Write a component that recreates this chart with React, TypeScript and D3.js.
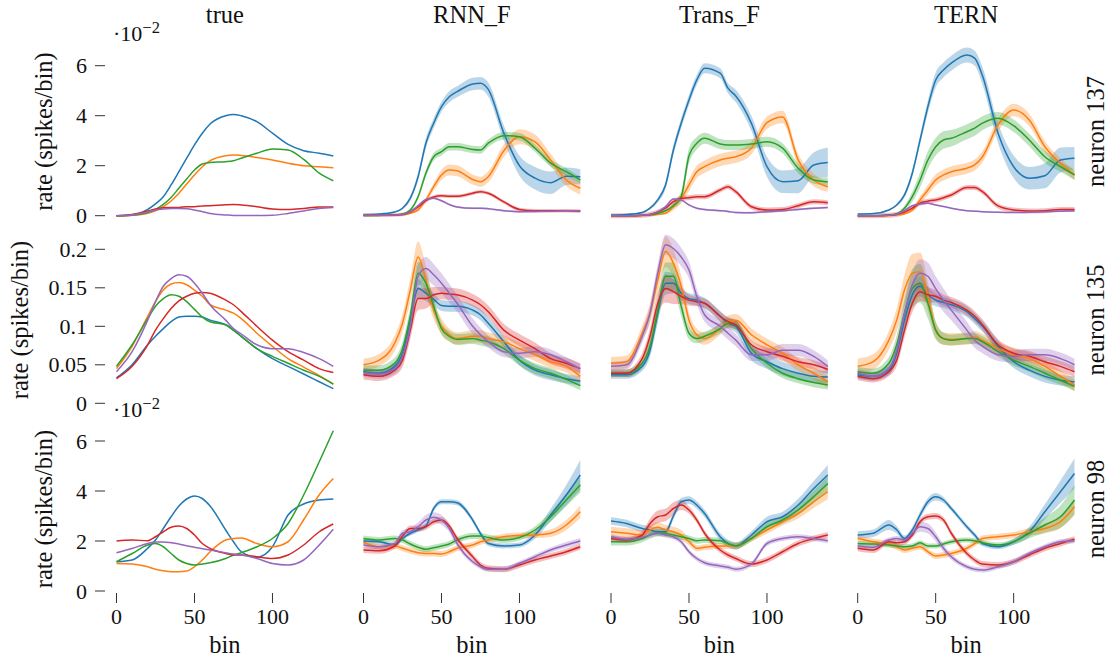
import React, { useRef, useEffect } from "react";
import * as d3 from "d3";

// sample bins shared by every curve
const bins = [0, 10, 20, 25, 30, 35, 40, 45, 50, 55, 60, 70, 75, 80, 90, 100, 110, 120, 130, 139];
const modelNames = ["true", "RNN_F", "Trans_F", "TERN"];
const neuronNames = ["neuron 137", "neuron 135", "neuron 98"];
const seriesColors = ["#1f77b4", "#ff7f0e", "#2ca02c", "#d62728", "#9467bd"];
const binTicks = [0, 50, 100];
const smallRateTicks = [0, 2, 4, 6]; // x 10^-2
const largeRateTicks = [0, 0.05, 0.1, 0.15, 0.2];

// neuron 137, rates in units of 10^-2
const n137True = [
  [0, 0.03, 0.25, 0.47, 0.76, 1.23, 1.76, 2.3, 2.83, 3.3, 3.67, 4.0, 4.05, 4.0, 3.76, 3.3, 2.85, 2.6, 2.5, 2.39],
  [0, 0.02, 0.1, 0.2, 0.36, 0.59, 0.9, 1.27, 1.63, 1.96, 2.2, 2.4, 2.43, 2.41, 2.33, 2.23, 2.1, 2.0, 1.96, 1.92],
  [0, 0.02, 0.13, 0.25, 0.45, 0.73, 1.1, 1.47, 1.83, 2.07, 2.13, 2.16, 2.2, 2.3, 2.5, 2.67, 2.63, 2.25, 1.7, 1.4],
  [0, 0.05, 0.19, 0.27, 0.32, 0.33, 0.33, 0.36, 0.36, 0.39, 0.4, 0.44, 0.45, 0.43, 0.36, 0.27, 0.25, 0.29, 0.35, 0.35],
  [0, 0.03, 0.15, 0.23, 0.27, 0.29, 0.29, 0.28, 0.23, 0.16, 0.09, 0.03, 0.01, 0.01, 0.01, 0.02, 0.09, 0.19, 0.29, 0.33],
];
const n137Rnn = [
  [0.05, 0.07, 0.15, 0.3, 0.7, 1.56, 2.9, 3.7, 4.36, 4.76, 4.96, 5.27, 5.3, 5.05, 3.3, 2.0, 1.5, 1.32, 1.58, 1.56],
  [0.02, 0.02, 0.03, 0.04, 0.1, 0.23, 0.63, 1.16, 1.63, 1.83, 1.8, 1.45, 1.36, 1.56, 2.6, 3.16, 2.95, 2.23, 1.43, 1.1],
  [0, 0.01, 0.03, 0.07, 0.23, 0.76, 1.7, 2.36, 2.56, 2.76, 2.76, 2.65, 2.63, 2.9, 3.2, 3.16, 2.7, 2.1, 1.76, 1.43],
  [0.02, 0.02, 0.03, 0.05, 0.15, 0.35, 0.6, 0.75, 0.8, 0.78, 0.78, 0.9, 0.96, 0.9, 0.55, 0.25, 0.2, 0.2, 0.2, 0.18],
  [0.02, 0.02, 0.03, 0.05, 0.15, 0.4, 0.65, 0.7, 0.6, 0.45, 0.35, 0.3, 0.3, 0.28, 0.2, 0.16, 0.17, 0.18, 0.2, 0.2],
];
const n137RnnSd = [
  [0, 0, 0.02, 0.05, 0.1, 0.15, 0.2, 0.2, 0.2, 0.22, 0.22, 0.25, 0.25, 0.28, 0.3, 0.4, 0.45, 0.45, 0.35, 0.3],
  [0, 0, 0, 0.01, 0.03, 0.06, 0.1, 0.15, 0.2, 0.22, 0.22, 0.2, 0.2, 0.22, 0.25, 0.3, 0.3, 0.25, 0.25, 0.25],
  [0, 0, 0, 0.02, 0.05, 0.1, 0.15, 0.15, 0.15, 0.15, 0.15, 0.15, 0.15, 0.15, 0.15, 0.15, 0.15, 0.15, 0.15, 0.12],
  0.07,
  0.04,
];
const n137Trans = [
  [0.03, 0.05, 0.13, 0.3, 0.63, 1.23, 2.63, 3.7, 4.63, 5.43, 5.9, 5.7, 5.1, 4.79, 3.7, 1.96, 1.36, 1.4, 2.03, 2.13],
  [0, 0, 0.01, 0.02, 0.05, 0.1, 0.36, 0.7, 1.23, 1.76, 1.96, 2.23, 2.3, 2.36, 2.7, 3.72, 3.95, 2.23, 1.43, 1.16],
  [0, 0, 0.02, 0.04, 0.1, 0.2, 0.4, 0.76, 2.4, 2.9, 3.1, 2.87, 2.83, 2.83, 2.87, 2.96, 2.7, 1.9, 1.43, 1.36],
  [0, 0, 0.02, 0.05, 0.15, 0.3, 0.56, 0.7, 0.72, 0.76, 0.76, 1.03, 1.16, 0.96, 0.36, 0.23, 0.25, 0.4, 0.56, 0.52],
  [0, 0, 0.02, 0.05, 0.15, 0.36, 0.67, 0.63, 0.43, 0.3, 0.25, 0.2, 0.17, 0.13, 0.12, 0.16, 0.2, 0.25, 0.3, 0.33],
];
const n137TransSd = [
  [0, 0, 0.02, 0.05, 0.1, 0.15, 0.2, 0.2, 0.2, 0.2, 0.2, 0.2, 0.2, 0.25, 0.3, 0.4, 0.45, 0.5, 0.5, 0.6],
  [0, 0, 0, 0, 0.02, 0.05, 0.15, 0.2, 0.25, 0.25, 0.25, 0.25, 0.25, 0.25, 0.25, 0.25, 0.25, 0.25, 0.25, 0.2],
  [0, 0, 0, 0, 0.02, 0.05, 0.1, 0.2, 0.3, 0.25, 0.22, 0.2, 0.2, 0.2, 0.2, 0.2, 0.2, 0.2, 0.15, 0.15],
  0.1,
  0.04,
];
const n137Tern = [
  [0.07, 0.09, 0.23, 0.43, 0.83, 1.7, 3.03, 4.36, 5.43, 5.83, 6.1, 6.43, 6.3, 5.6, 3.3, 1.96, 1.5, 1.6, 2.23, 2.3],
  [0, 0, 0.01, 0.03, 0.08, 0.23, 0.63, 1.03, 1.43, 1.63, 1.76, 1.9, 2.03, 2.36, 3.63, 4.23, 3.83, 2.76, 2.1, 1.63],
  [0, 0.01, 0.03, 0.08, 0.3, 0.76, 1.43, 2.23, 2.76, 3.03, 3.1, 3.36, 3.5, 3.7, 3.9, 3.6, 3.03, 2.36, 1.96, 1.63],
  [0, 0, 0.02, 0.05, 0.15, 0.3, 0.5, 0.58, 0.63, 0.72, 0.83, 1.13, 1.13, 0.96, 0.39, 0.23, 0.19, 0.2, 0.25, 0.25],
  [0, 0, 0.02, 0.06, 0.2, 0.4, 0.47, 0.5, 0.43, 0.37, 0.3, 0.2, 0.18, 0.16, 0.14, 0.13, 0.14, 0.16, 0.18, 0.2],
];
const n137TernSd = [
  [0, 0, 0.02, 0.05, 0.1, 0.15, 0.2, 0.25, 0.3, 0.3, 0.3, 0.3, 0.3, 0.35, 0.4, 0.45, 0.45, 0.5, 0.5, 0.45],
  [0, 0, 0, 0.01, 0.03, 0.08, 0.15, 0.2, 0.22, 0.22, 0.22, 0.22, 0.22, 0.22, 0.25, 0.25, 0.25, 0.22, 0.2, 0.2],
  [0, 0, 0, 0.02, 0.1, 0.2, 0.3, 0.35, 0.35, 0.35, 0.33, 0.3, 0.3, 0.28, 0.25, 0.25, 0.25, 0.25, 0.2, 0.2],
  0.1,
  0.03,
];

// neuron 135, rates in spikes/bin
const n135True = [
  [0.033, 0.05, 0.076, 0.087, 0.097, 0.106, 0.112, 0.113, 0.113, 0.112, 0.108, 0.102, 0.095, 0.087, 0.071, 0.058, 0.048, 0.038, 0.028, 0.019],
  [0.045, 0.074, 0.113, 0.132, 0.147, 0.155, 0.157, 0.154, 0.147, 0.139, 0.128, 0.121, 0.117, 0.11, 0.091, 0.074, 0.058, 0.047, 0.036, 0.025],
  [0.048, 0.076, 0.11, 0.126, 0.136, 0.141, 0.139, 0.132, 0.122, 0.112, 0.106, 0.102, 0.095, 0.087, 0.071, 0.061, 0.052, 0.043, 0.035, 0.025],
  [0.032, 0.048, 0.076, 0.095, 0.11, 0.123, 0.133, 0.139, 0.143, 0.144, 0.143, 0.134, 0.128, 0.119, 0.1, 0.082, 0.067, 0.056, 0.045, 0.04],
  [0.041, 0.067, 0.108, 0.132, 0.152, 0.162, 0.167, 0.165, 0.156, 0.143, 0.128, 0.108, 0.097, 0.09, 0.076, 0.071, 0.071, 0.066, 0.058, 0.048],
];
const n135Rnn = [
  [0.041, 0.039, 0.048, 0.065, 0.108, 0.149, 0.143, 0.135, 0.127, 0.126, 0.126, 0.121, 0.115, 0.104, 0.08, 0.056, 0.043, 0.037, 0.032, 0.029],
  [0.05, 0.056, 0.078, 0.104, 0.147, 0.19, 0.16, 0.121, 0.1, 0.089, 0.084, 0.087, 0.087, 0.084, 0.08, 0.071, 0.063, 0.054, 0.048, 0.035],
  [0.043, 0.043, 0.052, 0.071, 0.113, 0.169, 0.156, 0.126, 0.097, 0.087, 0.083, 0.084, 0.082, 0.08, 0.071, 0.056, 0.045, 0.039, 0.031, 0.023],
  [0.037, 0.035, 0.043, 0.056, 0.095, 0.136, 0.136, 0.141, 0.143, 0.142, 0.141, 0.134, 0.128, 0.119, 0.095, 0.082, 0.071, 0.058, 0.052, 0.045],
  [0.04, 0.038, 0.045, 0.061, 0.1, 0.165, 0.175, 0.167, 0.156, 0.143, 0.13, 0.1, 0.089, 0.08, 0.067, 0.065, 0.067, 0.063, 0.054, 0.045],
];
const n135RnnSd = [
  [0.005, 0.005, 0.006, 0.008, 0.01, 0.012, 0.01, 0.008, 0.007, 0.007, 0.007, 0.007, 0.007, 0.007, 0.007, 0.007, 0.007, 0.007, 0.006, 0.006],
  [0.008, 0.008, 0.01, 0.012, 0.015, 0.02, 0.018, 0.012, 0.01, 0.008, 0.008, 0.008, 0.008, 0.008, 0.008, 0.008, 0.008, 0.008, 0.008, 0.008],
  [0.006, 0.006, 0.007, 0.009, 0.012, 0.015, 0.013, 0.01, 0.008, 0.007, 0.007, 0.007, 0.007, 0.007, 0.007, 0.007, 0.007, 0.007, 0.006, 0.006],
  [0.006, 0.006, 0.007, 0.009, 0.012, 0.015, 0.013, 0.01, 0.008, 0.008, 0.008, 0.008, 0.008, 0.008, 0.008, 0.008, 0.008, 0.007, 0.007, 0.007],
  [0.006, 0.006, 0.007, 0.009, 0.012, 0.015, 0.015, 0.014, 0.013, 0.012, 0.011, 0.01, 0.009, 0.008, 0.007, 0.007, 0.007, 0.007, 0.006, 0.006],
];
const n135Trans = [
  [0.037, 0.037, 0.048, 0.069, 0.117, 0.156, 0.156, 0.143, 0.136, 0.134, 0.13, 0.113, 0.104, 0.1, 0.065, 0.054, 0.045, 0.039, 0.035, 0.034],
  [0.052, 0.054, 0.091, 0.117, 0.16, 0.197, 0.182, 0.152, 0.108, 0.089, 0.084, 0.097, 0.106, 0.108, 0.089, 0.076, 0.065, 0.05, 0.039, 0.028],
  [0.039, 0.039, 0.052, 0.074, 0.121, 0.165, 0.165, 0.126, 0.091, 0.084, 0.087, 0.097, 0.104, 0.102, 0.071, 0.052, 0.039, 0.032, 0.027, 0.024],
  [0.039, 0.039, 0.058, 0.087, 0.13, 0.149, 0.145, 0.139, 0.134, 0.132, 0.13, 0.113, 0.106, 0.102, 0.076, 0.067, 0.061, 0.054, 0.05, 0.044],
  [0.048, 0.05, 0.087, 0.117, 0.169, 0.206, 0.201, 0.19, 0.173, 0.139, 0.115, 0.1, 0.091, 0.082, 0.063, 0.063, 0.069, 0.069, 0.061, 0.048],
];
const n135TransSd = [
  [0.005, 0.005, 0.006, 0.009, 0.012, 0.015, 0.013, 0.009, 0.007, 0.007, 0.007, 0.007, 0.007, 0.008, 0.009, 0.009, 0.009, 0.009, 0.008, 0.008],
  [0.008, 0.008, 0.01, 0.013, 0.016, 0.02, 0.018, 0.014, 0.01, 0.008, 0.008, 0.008, 0.008, 0.008, 0.008, 0.008, 0.008, 0.008, 0.008, 0.008],
  [0.005, 0.005, 0.007, 0.01, 0.014, 0.018, 0.018, 0.013, 0.008, 0.006, 0.006, 0.006, 0.006, 0.006, 0.006, 0.006, 0.006, 0.006, 0.006, 0.006],
  [0.005, 0.005, 0.007, 0.01, 0.014, 0.018, 0.016, 0.01, 0.007, 0.006, 0.006, 0.006, 0.006, 0.006, 0.006, 0.006, 0.006, 0.006, 0.006, 0.006],
  [0.006, 0.006, 0.008, 0.01, 0.012, 0.013, 0.013, 0.012, 0.011, 0.01, 0.009, 0.008, 0.008, 0.008, 0.008, 0.008, 0.008, 0.008, 0.008, 0.008],
];
const n135Tern = [
  [0.037, 0.035, 0.043, 0.065, 0.108, 0.141, 0.152, 0.141, 0.134, 0.131, 0.128, 0.119, 0.11, 0.1, 0.074, 0.054, 0.043, 0.035, 0.03, 0.028],
  [0.048, 0.054, 0.082, 0.108, 0.147, 0.169, 0.171, 0.139, 0.095, 0.084, 0.083, 0.084, 0.086, 0.082, 0.071, 0.063, 0.058, 0.048, 0.035, 0.024],
  [0.041, 0.039, 0.052, 0.076, 0.117, 0.149, 0.156, 0.13, 0.095, 0.084, 0.082, 0.084, 0.084, 0.08, 0.067, 0.056, 0.048, 0.039, 0.03, 0.022],
  [0.035, 0.032, 0.041, 0.056, 0.095, 0.13, 0.145, 0.141, 0.139, 0.134, 0.131, 0.121, 0.113, 0.102, 0.076, 0.065, 0.061, 0.054, 0.048, 0.041],
  [0.039, 0.035, 0.045, 0.069, 0.117, 0.154, 0.169, 0.165, 0.149, 0.134, 0.121, 0.095, 0.082, 0.074, 0.063, 0.061, 0.063, 0.063, 0.058, 0.05],
];
const n135TernSd = [
  [0.005, 0.005, 0.006, 0.009, 0.012, 0.015, 0.013, 0.01, 0.008, 0.007, 0.007, 0.007, 0.007, 0.007, 0.008, 0.008, 0.008, 0.008, 0.007, 0.007],
  [0.01, 0.01, 0.012, 0.015, 0.02, 0.025, 0.025, 0.018, 0.01, 0.008, 0.008, 0.008, 0.008, 0.008, 0.008, 0.008, 0.008, 0.008, 0.008, 0.008],
  [0.006, 0.006, 0.008, 0.012, 0.018, 0.025, 0.025, 0.02, 0.012, 0.008, 0.007, 0.007, 0.007, 0.007, 0.007, 0.007, 0.007, 0.007, 0.006, 0.006],
  [0.005, 0.005, 0.006, 0.008, 0.01, 0.012, 0.012, 0.01, 0.008, 0.007, 0.007, 0.007, 0.007, 0.007, 0.007, 0.007, 0.007, 0.007, 0.007, 0.007],
  [0.006, 0.006, 0.008, 0.01, 0.013, 0.016, 0.018, 0.018, 0.016, 0.015, 0.013, 0.011, 0.01, 0.009, 0.008, 0.008, 0.008, 0.008, 0.008, 0.008],
];

// neuron 98, rates in units of 10^-2
const n98True = [
  [1.17, 1.24, 1.71, 2.04, 2.5, 2.97, 3.4, 3.68, 3.8, 3.7, 3.4, 2.44, 1.97, 1.57, 1.35, 1.77, 3.04, 3.48, 3.64, 3.68],
  [1.1, 1.08, 0.97, 0.87, 0.81, 0.77, 0.77, 0.8, 0.97, 1.24, 1.57, 2.04, 2.1, 2.12, 1.9, 1.77, 1.97, 2.85, 3.85, 4.5],
  [1.17, 1.5, 1.84, 1.9, 1.77, 1.5, 1.24, 1.1, 1.04, 1.08, 1.13, 1.3, 1.44, 1.53, 1.77, 2.1, 2.7, 3.84, 5.17, 6.41],
  [2.0, 2.04, 2.01, 2.17, 2.37, 2.55, 2.6, 2.5, 2.24, 1.9, 1.7, 1.5, 1.44, 1.44, 1.37, 1.3, 1.44, 1.84, 2.37, 2.68],
  [1.53, 1.7, 1.9, 1.96, 1.96, 1.93, 1.88, 1.81, 1.75, 1.69, 1.64, 1.53, 1.48, 1.44, 1.3, 1.1, 1.04, 1.24, 1.84, 2.47],
];
const n98Rnn = [
  [2.0, 1.97, 1.84, 2.1, 2.31, 2.44, 2.6, 3.3, 3.57, 3.57, 3.53, 2.84, 2.3, 1.9, 1.8, 1.84, 2.24, 3.04, 3.84, 4.64],
  [1.95, 1.77, 1.8, 1.71, 1.61, 1.53, 1.5, 1.5, 1.48, 1.57, 1.71, 1.84, 1.97, 2.04, 2.17, 2.22, 2.24, 2.31, 2.64, 3.17],
  [2.1, 2.04, 2.1, 2.04, 1.88, 1.75, 1.67, 1.73, 1.8, 1.88, 2.04, 2.2, 2.2, 2.14, 2.04, 2.14, 2.44, 2.97, 3.64, 4.24],
  [1.64, 1.61, 1.8, 2.2, 2.5, 2.5, 2.57, 2.77, 2.84, 2.6, 2.1, 1.37, 1.04, 0.91, 0.87, 1.04, 1.24, 1.4, 1.57, 1.77],
  [1.84, 1.77, 1.9, 2.31, 2.37, 2.57, 2.84, 2.95, 2.84, 2.5, 1.9, 1.17, 0.97, 0.87, 0.87, 1.1, 1.37, 1.64, 1.84, 2.0],
];
const n98RnnSd = [
  [0.12, 0.08, 0.08, 0.08, 0.08, 0.08, 0.1, 0.1, 0.1, 0.1, 0.1, 0.1, 0.1, 0.1, 0.1, 0.1, 0.15, 0.25, 0.4, 0.6],
  [0.12, 0.12, 0.12, 0.12, 0.12, 0.12, 0.12, 0.12, 0.12, 0.12, 0.12, 0.12, 0.12, 0.12, 0.12, 0.12, 0.12, 0.15, 0.2, 0.25],
  [0.12, 0.12, 0.12, 0.12, 0.12, 0.12, 0.12, 0.12, 0.12, 0.12, 0.12, 0.12, 0.12, 0.12, 0.12, 0.12, 0.15, 0.2, 0.25, 0.3],
  0.12,
  [0.1, 0.1, 0.1, 0.12, 0.15, 0.18, 0.2, 0.2, 0.2, 0.15, 0.12, 0.1, 0.1, 0.1, 0.1, 0.1, 0.1, 0.1, 0.12, 0.12],
];
const n98Trans = [
  [2.8, 2.7, 2.5, 2.44, 2.37, 2.37, 3.0, 3.57, 3.64, 3.44, 3.1, 2.17, 1.9, 1.8, 2.24, 2.77, 2.97, 3.44, 4.1, 4.64],
  [2.37, 2.31, 2.24, 2.44, 2.55, 2.44, 2.37, 2.24, 1.97, 1.71, 1.75, 1.8, 1.8, 1.8, 2.1, 2.44, 2.77, 3.1, 3.57, 3.97],
  [1.97, 1.97, 2.1, 2.24, 2.33, 2.31, 2.24, 2.17, 2.1, 2.01, 2.04, 2.01, 1.9, 1.81, 2.1, 2.57, 2.84, 3.24, 3.77, 4.3],
  [2.1, 2.04, 2.24, 2.7, 2.97, 3.04, 3.3, 3.44, 3.24, 2.84, 2.31, 1.64, 1.44, 1.3, 1.08, 1.24, 1.57, 1.9, 2.1, 2.24],
  [2.17, 2.07, 2.14, 2.24, 2.31, 2.24, 2.17, 1.97, 1.57, 1.3, 1.13, 1.0, 0.95, 0.87, 1.08, 1.9, 2.1, 2.17, 2.1, 2.01],
];
const n98TransSd = [
  [0.15, 0.15, 0.15, 0.15, 0.15, 0.15, 0.15, 0.15, 0.15, 0.15, 0.15, 0.15, 0.15, 0.15, 0.15, 0.2, 0.2, 0.25, 0.3, 0.4],
  [0.2, 0.2, 0.2, 0.2, 0.2, 0.2, 0.2, 0.2, 0.15, 0.12, 0.12, 0.12, 0.12, 0.12, 0.12, 0.15, 0.15, 0.2, 0.25, 0.3],
  [0.15, 0.15, 0.15, 0.15, 0.15, 0.15, 0.15, 0.12, 0.12, 0.12, 0.12, 0.12, 0.12, 0.12, 0.12, 0.15, 0.15, 0.2, 0.25, 0.3],
  [0.12, 0.12, 0.15, 0.2, 0.25, 0.25, 0.25, 0.2, 0.15, 0.12, 0.12, 0.12, 0.12, 0.12, 0.12, 0.12, 0.12, 0.12, 0.12, 0.12],
  0.1,
];
const n98Tern = [
  [2.24, 2.31, 2.64, 2.45, 2.1, 2.44, 3.04, 3.57, 3.77, 3.64, 3.3, 2.57, 2.24, 1.9, 1.77, 1.97, 2.37, 3.17, 3.97, 4.7],
  [2.1, 1.97, 1.88, 1.77, 1.64, 1.71, 1.77, 1.57, 1.4, 1.44, 1.5, 1.71, 1.9, 2.1, 2.17, 2.24, 2.37, 2.5, 2.77, 3.37],
  [1.9, 1.88, 1.84, 1.8, 1.77, 1.8, 1.93, 1.8, 1.8, 1.88, 1.97, 2.04, 2.01, 1.93, 1.84, 1.97, 2.31, 2.64, 2.97, 3.64],
  [1.71, 1.64, 1.97, 1.93, 1.97, 2.24, 2.77, 2.97, 3.0, 2.84, 2.31, 1.5, 1.24, 1.08, 1.04, 1.17, 1.44, 1.71, 1.9, 2.07],
  [1.8, 1.75, 2.04, 2.1, 2.04, 2.31, 2.57, 2.5, 2.17, 1.71, 1.37, 0.97, 0.87, 0.84, 0.97, 1.17, 1.5, 1.77, 1.97, 2.01],
];
const n98TernSd = [
  [0.15, 0.15, 0.2, 0.15, 0.12, 0.12, 0.15, 0.15, 0.15, 0.12, 0.1, 0.1, 0.1, 0.1, 0.1, 0.12, 0.2, 0.3, 0.45, 0.6],
  [0.12, 0.12, 0.12, 0.12, 0.12, 0.12, 0.12, 0.12, 0.12, 0.12, 0.12, 0.12, 0.12, 0.12, 0.12, 0.12, 0.15, 0.2, 0.25, 0.3],
  [0.1, 0.1, 0.1, 0.1, 0.1, 0.1, 0.1, 0.1, 0.1, 0.1, 0.1, 0.1, 0.1, 0.1, 0.1, 0.12, 0.2, 0.3, 0.45, 0.6],
  0.12,
  [0.1, 0.1, 0.1, 0.1, 0.12, 0.15, 0.2, 0.2, 0.18, 0.15, 0.12, 0.1, 0.1, 0.1, 0.1, 0.1, 0.1, 0.1, 0.1, 0.1],
];

const panelData = [
  [{ mean: n137True }, { mean: n137Rnn, sd: n137RnnSd }, { mean: n137Trans, sd: n137TransSd }, { mean: n137Tern, sd: n137TernSd }],
  [{ mean: n135True }, { mean: n135Rnn, sd: n135RnnSd }, { mean: n135Trans, sd: n135TransSd }, { mean: n135Tern, sd: n135TernSd }],
  [{ mean: n98True }, { mean: n98Rnn, sd: n98RnnSd }, { mean: n98Trans, sd: n98TransSd }, { mean: n98Tern, sd: n98TernSd }],
];

// layout of the grid (pixels)
const colLeft = [116.5, 363.5, 611, 857.7];
const colWidth = 216.8;
const rowSetup = [
  { zero: 215.7, top: 65.7, ticks: smallRateTicks, scaled: true, labelX: 52, center: 131.5 },
  { zero: 403.3, top: 249.3, ticks: largeRateTicks, scaled: false, labelX: 28, center: 320 },
  { zero: 591, top: 441, ticks: smallRateTicks, scaled: true, labelX: 52, center: 509 },
];

const FONT = "'Liberation Serif', 'Times New Roman', serif";
const TEXT_SIZE = "24.5px";
const TICK_SIZE = "22px";

export default function App() {
  const svgRef = useRef<SVGSVGElement>(null);

  useEffect(() => {
    const svg = d3.select(svgRef.current);
    svg.selectAll("*").remove();

    const sdAt = (sd: any, i: number) => (sd == null ? 0 : typeof sd === "number" ? sd : sd[i]);

    rowSetup.forEach((row, r) => {
      const yMax = row.ticks[row.ticks.length - 1];
      const y = d3.scaleLinear().domain([0, yMax]).range([row.zero, row.top]);

      modelNames.forEach((model, c) => {
        const x = d3.scaleLinear().domain([0, 139]).range([colLeft[c], colLeft[c] + colWidth]);
        const panel = panelData[r][c];
        const g = svg.append("g");

        if (panel.sd) {
          panel.mean.forEach((vals, s) => {
            const area = d3
              .area<number>()
              .x((_, i) => x(bins[i]))
              .y0((v, i) => y(v - sdAt(panel.sd[s], i)))
              .y1((v, i) => y(v + sdAt(panel.sd[s], i)))
              .curve(d3.curveMonotoneX);
            g.append("path").attr("d", area(vals)).attr("fill", seriesColors[s]).attr("fill-opacity", 0.3);
          });
        }

        panel.mean.forEach((vals, s) => {
          const line = d3
            .line<number>()
            .x((_, i) => x(bins[i]))
            .y((v) => y(v))
            .curve(d3.curveMonotoneX);
          g.append("path")
            .attr("d", line(vals))
            .attr("fill", "none")
            .attr("stroke", seriesColors[s])
            .attr("stroke-width", 1.5);
        });

        // column title
        if (r === 0) {
          svg.append("text")
            .attr("x", colLeft[c] + colWidth / 2)
            .attr("y", 23)
            .attr("text-anchor", "middle")
            .style("font-family", FONT)
            .style("font-size", TEXT_SIZE)
            .attr("fill", "#111")
            .text(model);
        }

        // x axis on bottom row
        if (r === 2) {
          binTicks.forEach((t) => {
            svg.append("line")
              .attr("x1", x(t)).attr("x2", x(t))
              .attr("y1", 593).attr("y2", 603)
              .attr("stroke", "#333").attr("stroke-width", 1);
            svg.append("text")
              .attr("x", x(t)).attr("y", 624)
              .attr("text-anchor", "middle")
              .style("font-family", FONT).style("font-size", TICK_SIZE)
              .attr("fill", "#111")
              .text(String(t));
          });
          svg.append("text")
            .attr("x", colLeft[c] + colWidth / 2)
            .attr("y", 653)
            .attr("text-anchor", "middle")
            .style("font-family", FONT).style("font-size", TEXT_SIZE)
            .attr("fill", "#111")
            .text("bin");
        }
      });

      // y axis on first column
      const left = colLeft[0];
      row.ticks.forEach((t) => {
        svg.append("line")
          .attr("x1", left - 21.5).attr("x2", left - 11.5)
          .attr("y1", y(t)).attr("y2", y(t))
          .attr("stroke", "#333").attr("stroke-width", 1);
        svg.append("text")
          .attr("x", left - 29.5).attr("y", y(t))
          .attr("text-anchor", "end")
          .attr("dominant-baseline", "central")
          .style("font-family", FONT).style("font-size", TICK_SIZE)
          .attr("fill", "#111")
          .text(String(t));
      });

      if (row.scaled) {
        const exp = svg.append("text")
          .attr("x", left - 3.5).attr("y", y(6) - 24.5)
          .style("font-family", FONT).style("font-size", TICK_SIZE)
          .attr("fill", "#111");
        exp.append("tspan").text("\u00b710");
        exp.append("tspan").attr("dy", -8).style("font-size", "16.5px").text("\u22122");
      }

      svg.append("text")
        .attr("transform", `translate(${row.labelX},${row.center}) rotate(-90)`)
        .attr("text-anchor", "middle")
        .style("font-family", FONT).style("font-size", TEXT_SIZE)
        .attr("fill", "#111")
        .text("rate (spikes/bin)");

      svg.append("text")
        .attr("transform", `translate(1104,${row.center}) rotate(-90)`)
        .attr("text-anchor", "middle")
        .style("font-family", FONT).style("font-size", TEXT_SIZE)
        .attr("fill", "#111")
        .text(neuronNames[r]);
    });
  }, []);

  return (
    <svg
      ref={svgRef}
      width={1112}
      height={661}
      style={{ position: "absolute", left: 0, top: 0, background: "#fff", display: "block" }}
    />
  );
}
